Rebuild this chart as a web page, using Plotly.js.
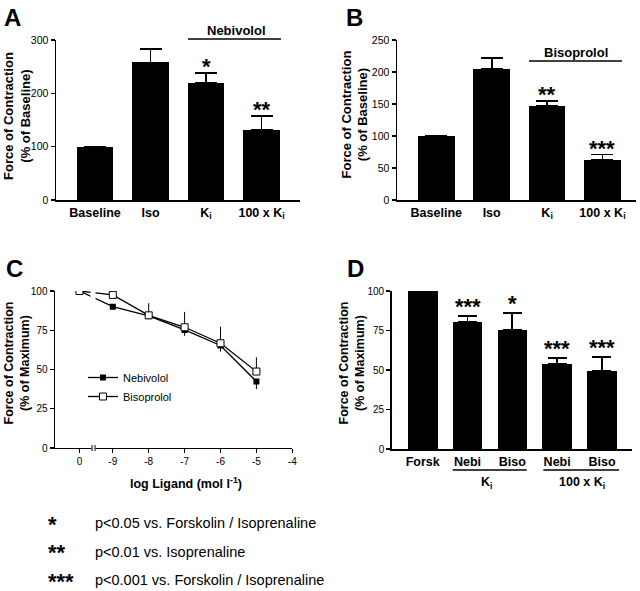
<!DOCTYPE html>
<html>
<head>
<meta charset="utf-8">
<script src="https://cdn.plot.ly/plotly-3.0.1.min.js"></script>
<style>
html,body{margin:0;padding:0;background:#fff;}
#chart{width:640px;height:591px;}
</style>
</head>
<body>
<div id="chart"></div>
<script>
// ---------- DATA ----------
// Panel A (Nebivolol)
var aCategories = ['Baseline', 'Iso', 'K<sub>i</sub>', '100 x K<sub>i</sub>'];
var aValues = [100, 258, 220, 131];
var aErr = [0, 25, 17.5, 27];
var aStars = ['', '', '*', '**'];
// Panel B (Bisoprolol)
var bCategories = ['Baseline', 'Iso', 'K<sub>i</sub>', '100 x K<sub>i</sub>'];
var bValues = [100, 205, 147, 62.5];
var bErr = [0, 17, 8, 8.5];
var bStars = ['', '', '**', '***'];
// Panel C (concentration-response)
var cDose = [0, -9, -8, -7, -6, -5];          // 0 = no ligand (control)
var cTickDose = [0, -9, -8, -7, -6, -5, -4];
var cTickLabels = ['0', '-9', '-8', '-7', '-6', '-5', '-4'];
var cNebi = [100, 90, 84.1, 75.2, 65.3, 42.4];
var cNebiErrUp = [0, 1.5, 0, 0, 0, 0];
var cNebiErrDown = [0, 1.5, 2.1, 3.8, 3.9, 4.9];
var cBiso = [100, 97.5, 84.5, 76.9, 66.7, 48.7];
var cBisoErrUp = [0, 0, 7.7, 9.8, 10.6, 9.1];
var cBisoErrDown = [0, 0, 0, 0, 0, 0];
// Panel D (Forskolin)
var dCategories = ['Forsk', 'Nebi', 'Biso', 'Nebi', 'Biso'];
var dValues = [100, 80.6, 75.3, 53.6, 49.6];
var dErr = [0, 3.8, 11, 4.2, 8.8];
var dStars = ['', '***', '*', '***', '***'];
// Footnotes
var footStars = ['*', '**', '***'];
var footTexts = ['p<0.05 vs. Forskolin / Isoprenaline', 'p<0.01 vs. Isoprenaline', 'p<0.001 vs. Forskolin / Isoprenaline'];

// ---------- LAYOUT HELPERS ----------
var W = 640, H = 591;
var FONT = 'Liberation Sans, Arial, Helvetica, sans-serif';
var CONTROL_POS = -9.93; // where the "0" (control) point sits on the broken axis
function fx(p) { return p / W; }
function fy(p) { return 1 - p / H; }
function dom(a, b, total) { return [a / total, b / total]; }
function ydom(top, bottom) { return [1 - bottom / H, 1 - top / H]; }
function idx(arr) { return arr.map(function (_, i) { return i; }); }
function noZero(arr) { return arr.map(function (v) { return v > 0 ? v : null; }); }

var annotations = [];
var shapes = [];
function ann(text, x, y, size, bold, extra) {
  var o = {
    text: text, xref: 'paper', yref: 'paper', x: fx(x), y: fy(y),
    xanchor: 'center', yanchor: 'middle', showarrow: false,
    font: { family: FONT, size: size, color: '#000', weight: bold ? 'bold' : 'normal' }
  };
  if (extra) for (var k in extra) o[k] = extra[k];
  annotations.push(o);
}
function hline(x0, x1, y, w) {
  shapes.push({ type: 'line', xref: 'paper', yref: 'paper', x0: fx(x0), x1: fx(x1), y0: fy(y), y1: fy(y),
    line: { color: '#000', width: w || 1.5 } });
}

function barAxisX(domain, range, cats, anchor) {
  return {
    domain: domain, range: range, anchor: anchor,
    tickvals: idx(cats), ticktext: cats, ticks: '',
    showline: true, linecolor: '#000', linewidth: 1.5,
    showgrid: false, zeroline: false, fixedrange: true,
    tickfont: { family: FONT, size: 12.5, color: '#000', weight: 'bold' }
  };
}
function valAxisY(domain, range, dtick, anchor, fs) {
  return {
    domain: domain, range: range, anchor: anchor, dtick: dtick, tick0: 0,
    ticks: 'outside', ticklen: 4, tickwidth: 1.2, tickcolor: '#000',
    showline: true, linecolor: '#000', linewidth: 1.5,
    showgrid: false, zeroline: false, fixedrange: true,
    tickfont: { family: FONT, size: fs, color: '#000' }
  };
}
function barTrace(cats, vals, err, halfCap, xa, ya) {
  return {
    type: 'bar', x: idx(cats), y: vals, xaxis: xa, yaxis: ya, width: 0.66,
    marker: { color: '#000', line: { width: 0 } },
    error_y: { type: 'data', array: noZero(err), arrayminus: err.map(function () { return null; }), symmetric: false,
      color: '#000', thickness: 1.8, width: halfCap },
    showlegend: false, hoverinfo: 'skip'
  };
}

// ---------- TRACES ----------
var traces = [];
traces.push(barTrace(aCategories, aValues, aErr, 11, 'x', 'y'));
traces.push(barTrace(bCategories, bValues, bErr, 11, 'x2', 'y2'));
var cX = cDose.map(function (d) { return d === 0 ? CONTROL_POS : d; });
traces.push({
  type: 'scatter', mode: 'lines+markers', name: 'Nebivolol', x: cX, y: cNebi, xaxis: 'x3', yaxis: 'y3',
  line: { color: '#000', width: 1.3 },
  marker: { symbol: 'square', size: 6, color: '#000' },
  error_y: { type: 'data', array: cNebiErrUp, arrayminus: cNebiErrDown, symmetric: false, color: '#000', thickness: 1, width: 0 },
  hoverinfo: 'skip'
});
traces.push({
  type: 'scatter', mode: 'lines+markers', name: 'Bisoprolol', x: cX, y: cBiso, xaxis: 'x3', yaxis: 'y3',
  line: { color: '#000', width: 1.3 },
  marker: { symbol: 'square', size: 7, color: '#fff', line: { color: '#000', width: 1 } },
  error_y: { type: 'data', array: cBisoErrUp, arrayminus: cBisoErrDown, symmetric: false, color: '#000', thickness: 1, width: 0 },
  hoverinfo: 'skip'
});
traces.push(barTrace(dCategories, dValues, dErr, 9.5, 'x4', 'y4'));

// ---------- ANNOTATIONS / SHAPES ----------
// panel letters
ann('A', 12, 17, 24, true);
ann('B', 354, 18, 24, true);
ann('C', 14, 268, 24, true);
ann('D', 355, 268, 24, true);
// y-axis titles
ann('Force of Contraction<br>(% of Baseline)', 17, 116, 13, true, { textangle: -90 });
ann('Force of Contraction<br>(% of Baseline)', 354.5, 115, 13, true, { textangle: -90 });
ann('Force of Contraction<br>(% of Maximum)', 16.5, 363, 12.5, true, { textangle: -90 });
ann('Force of Contraction<br>(% of Maximum)', 351.5, 363, 12.5, true, { textangle: -90 });
// brackets
ann('Nebivolol', 236, 30, 13, true);
hline(188, 281, 39, 1.6);
ann('Bisoprolol', 575.5, 52, 13, true);
hline(529, 622, 61, 1.6);
// significance stars over bars (data coords)
function stars(list, vals, err, xa, ya, yPadPx) {
  list.forEach(function (s, i) {
    if (!s) return;
    annotations.push({
      text: s, xref: xa, yref: ya, x: i, y: vals[i] + err[i], yanchor: 'bottom', xanchor: 'center',
      yshift: yPadPx, showarrow: false,
      font: { family: FONT, size: 22, color: '#000', weight: 'bold' }
    });
  });
}
stars(aStars, aValues, aErr, 'x', 'y', -8);
stars(bStars, bValues, bErr, 'x2', 'y2', -8);
stars(dStars, dValues, dErr, 'x4', 'y4', -5);
// C axis title
ann('log Ligand (mol l<sup>-1</sup>)', 186, 483, 12.5, true);
// C axis break
shapes.push({ type: 'rect', xref: 'paper', yref: 'paper', x0: fx(91.5), x1: fx(95.5), y0: fy(452), y1: fy(444),
  fillcolor: '#fff', line: { width: 0 }, layer: 'above' });
shapes.push({ type: 'rect', xref: 'paper', yref: 'paper', x0: fx(90.5), x1: fx(95.5), y0: fy(313), y1: fy(288),
  fillcolor: '#fff', line: { width: 0 }, layer: 'above' });
shapes.push({ type: 'line', xref: 'paper', yref: 'paper', x0: fx(92), x1: fx(92), y0: fy(451), y1: fy(445), line: { color: '#000', width: 1 } });
shapes.push({ type: 'line', xref: 'paper', yref: 'paper', x0: fx(95), x1: fx(95), y0: fy(451), y1: fy(445), line: { color: '#000', width: 1 } });
// D group labels
hline(452.7, 526.7, 470, 1.5);
hline(543.3, 619, 470, 1.5);
ann('K<sub>i</sub>', 486.7, 483, 12.5, true);
ann('100 x K<sub>i</sub>', 581.7, 483, 12.5, true);
// footnotes
footStars.forEach(function (s, i) {
  ann(s, 46, 524 + i * 28.5, 22, true, { xanchor: 'left' });
});
footTexts.forEach(function (t, i) {
  ann(t, 92.5, 523 + i * 28.5, 14.5, false, { xanchor: 'left' });
});

// ---------- LAYOUT ----------
var layout = {
  width: W, height: H,
  margin: { l: 0, r: 0, t: 0, b: 0, pad: 0 },
  paper_bgcolor: '#fff', plot_bgcolor: 'rgba(0,0,0,0)',
  font: { family: FONT, color: '#000' },
  showlegend: true,
  legend: {
    x: fx(83), y: fy(363), xanchor: 'left', yanchor: 'top',
    bgcolor: 'rgba(0,0,0,0)', borderwidth: 0, itemwidth: 30, tracegroupgap: 0,
    font: { family: FONT, size: 11, color: '#000' }
  },
  bargap: 0,
  xaxis: barAxisX(dom(56, 300, W), [-0.703, 3.693], aCategories, 'y'),
  yaxis: valAxisY(ydom(40, 200), [0, 300], 100, 'x', 10.5),
  xaxis2: barAxisX(dom(397, 636, W), [-0.709, 3.605], bCategories, 'y2'),
  yaxis2: valAxisY(ydom(40, 200), [0, 250], 50, 'x2', 10.5),
  xaxis3: {
    domain: dom(55, 292.3, W), range: [-10.61, -4], anchor: 'y3',
    tickvals: cTickDose.map(function (d) { return d === 0 ? CONTROL_POS : d; }), ticktext: cTickLabels,
    ticks: 'outside', ticklen: 4, tickwidth: 1, tickcolor: '#000',
    showline: true, linecolor: '#000', linewidth: 1.3,
    showgrid: false, zeroline: false, fixedrange: true,
    tickfont: { family: FONT, size: 10, color: '#000' }
  },
  yaxis3: valAxisY(ydom(291, 448), [0, 100], 25, 'x3', 10),
  xaxis4: barAxisX(dom(391.7, 632, W), [-0.692, 4.67], dCategories, 'y4'),
  yaxis4: valAxisY(ydom(291, 449), [0, 100], 25, 'x4', 10),
  annotations: annotations,
  shapes: shapes
};

Plotly.newPlot('chart', traces, layout, { staticPlot: true, displayModeBar: false });
</script>
</body>
</html>
